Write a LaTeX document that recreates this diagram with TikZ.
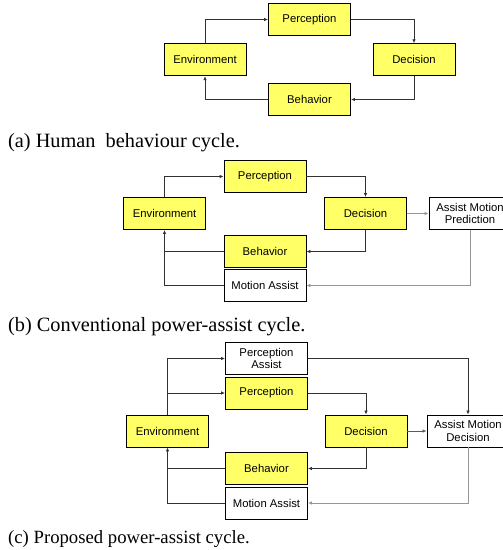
\documentclass[tikz,border=0pt]{standalone}
\usepackage{fontspec}
\setmainfont{Liberation Serif}
\newfontfamily\boxfont{Liberation Sans}
\usetikzlibrary{arrows.meta}
\definecolor{boxyellow}{RGB}{255,255,102}
\definecolor{linedark}{RGB}{50,50,50}
\definecolor{linegray}{RGB}{150,150,150}
\tikzset{
  cbox/.style={draw=black, line width=0.9pt, inner sep=0pt, minimum width=82pt, minimum height=32pt,
    font=\boxfont\fontsize{11.3}{12.5}\selectfont, align=center},
  ybox/.style={cbox, fill=boxyellow},
  wbox/.style={cbox, fill=white},
  conn/.style={draw=linedark, line width=0.9pt, -{Latex[length=4pt,width=3.5pt]}},
  plain/.style={draw=linedark, line width=0.9pt},
  gconn/.style={draw=linegray, line width=0.9pt, -{Latex[length=4pt,width=3.5pt]}},
  captext/.style={anchor=base west, inner sep=0pt, font=\fontsize{18.7}{20}\selectfont},
  bigcap/.style={captext, font=\fontsize{20.3}{22}\selectfont}
}
\begin{document}
\begin{tikzpicture}[x=1pt,y=-1pt]
\useasboundingbox (0,0) rectangle (503,550);
% ---------- (a)
\node[ybox] (pa) at (309.5,19.5) {Perception};
\node[ybox] (ea) at (205,59.7) {Environment};
\node[ybox] (da) at (414,59.7) {Decision};
\node[ybox] (ba) at (309.5,99.5) {Behavior};
\draw[conn] (ea.north) |- (pa.west);
\draw[conn] (pa.east) -| (da.north);
\draw[conn] (da.south) |- (ba.east);
\draw[conn] (ba.west) -| (ea.south);
\node[bigcap] (capa) at (8,147) {(a) Human\ \ behaviour cycle.};
% ---------- (b)
\node[ybox] (pb) at (265,176.5) {Perception};
\node[ybox] (eb) at (164.5,213.5) {Environment};
\node[ybox] (db) at (365.5,213.5) {Decision};
\node[wbox] (mb) at (470,213.5) {Assist Motion\\Prediction};
\node[ybox] (bb) at (265,251.5) {Behavior};
\node[wbox] (ab) at (265,285.5) {Motion Assist};
\draw[conn] (eb.north) |- (pb.west);
\draw[conn] (pb.east) -| (db.north);
\draw[gconn] (db.east) -- (mb.west);
\draw[conn] (db.south) |- (bb.east);
\draw[plain] (bb.west) -- (eb.south |- bb.west);
\draw[conn] (ab.west) -| (eb.south);
\draw[gconn] (mb.south) |- (ab.east);
\node[bigcap] (capb) at (8,331) {(b) Conventional power-assist cycle.};
% ---------- (c)
\node[wbox] (qc) at (266.5,358.5) {Perception\\Assist};
\node[ybox] (pc) at (266.5,393) {Perception};
\node[ybox] (ec) at (167.5,431) {Environment};
\node[ybox] (dc) at (366,431) {Decision};
\node[wbox] (mc) at (468,431) {Assist Motion\\Decision};
\node[ybox] (bc) at (266.5,468.5) {Behavior};
\node[wbox] (ac) at (266.5,503) {Motion Assist};
\draw[conn] (ec.north) |- (qc.west);
\draw[conn] (ec.north |- pc.west) -- (pc.west);
\draw[conn] (qc.east) -| (mc.north);
\draw[conn] (pc.east) -| (dc.north);
\draw[conn, draw=linedark!80] (dc.east) -- (mc.west);
\draw[conn] (dc.south) |- (bc.east);
\draw[plain] (bc.west) -- (ec.south |- bc.west);
\draw[conn] (ac.west) -| (ec.south);
\draw[gconn] (mc.south) |- (ac.east);
\node[captext] (capc) at (8,543) {(c) Proposed power-assist cycle.};
\end{tikzpicture}
\end{document}
